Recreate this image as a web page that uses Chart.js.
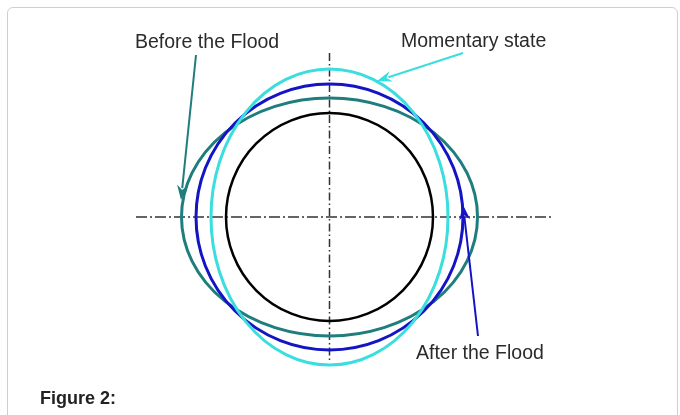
<!DOCTYPE html>
<html>
<head>
<meta charset="utf-8">
<script src="https://cdn.jsdelivr.net/npm/chart.js@4"></script>
<style>
  html, body { margin: 0; padding: 0; background: #fff; }
  #wrap { position: relative; width: 680px; height: 415px; overflow: hidden; }
  #frame { position: absolute; left: 7px; top: 7px; width: 671px; height: 440px;
           border: 1px solid #cfcfcf; border-radius: 6px; box-sizing: border-box; }
  canvas { position: absolute; left: 0; top: 0; }
  .lbl { position: absolute; font-family: "Liberation Sans", Arial, sans-serif;
         font-size: 19.5px; color: #2b2b2b; white-space: nowrap; line-height: 1; }
  #cap { position: absolute; left: 40px; top: 389px; font-family: "Liberation Sans", Arial, sans-serif;
         font-weight: bold; font-size: 18px; color: #222; line-height: 1; }
</style>
</head>
<body>
<div id="wrap">
  <div id="frame"></div>
  <canvas id="c" width="680" height="415"></canvas>
  <div class="lbl" style="left:135px; top:32px;">Before the Flood</div>
  <div class="lbl" style="left:401px; top:31px;">Momentary state</div>
  <div class="lbl" style="left:416px; top:343px;">After the Flood</div>
  <div id="cap">Figure 2:</div>
</div>
<script>
// Curves (semi-axes, in drawing units)
const curveNames = ["Original", "Before the Flood", "After the Flood", "Momentary state"];
const radiusX = [103.5, 148, 133.5, 118.5];
const radiusY = [104, 119, 133, 148];
const curveColors = ["#000000", "#1f7d7d", "#1414c4", "#3adede"];

// Centre lines
const hLineX = [-193.5, 223.5];
const vLineY = [164, -145];

// Annotation arrows: [fromX, fromY, toX, toY]
const arrowFrom = [[-133.5, 162], [133.5, 164], [148.5, -119]];
const arrowTo = [[-148.5, 17], [47.5, 136], [133.5, 12]];
const arrowColors = ["#1f7d7d", "#3adede", "#1414c4"];

const ellipsePlugin = {
  id: 'ellipses',
  afterDatasetsDraw(chart) {
    const ctx = chart.ctx, xs = chart.scales.x, ys = chart.scales.y;
    const cx = xs.getPixelForValue(0), cy = ys.getPixelForValue(0);
    ctx.save();
    [0, 1, 2, 3].forEach(i => {
      const rx = xs.getPixelForValue(radiusX[i]) - cx;
      const ry = cy - ys.getPixelForValue(radiusY[i]);
      ctx.beginPath();
      ctx.ellipse(cx, cy, rx, ry, 0, 0, Math.PI * 2);
      ctx.strokeStyle = curveColors[i];
      ctx.lineWidth = i === 0 ? 2.5 : 3;
      ctx.stroke();
    });
    arrowFrom.forEach((f, i) => {
      const x1 = xs.getPixelForValue(f[0]), y1 = ys.getPixelForValue(f[1]);
      const x2 = xs.getPixelForValue(arrowTo[i][0]), y2 = ys.getPixelForValue(arrowTo[i][1]);
      const ang = Math.atan2(y2 - y1, x2 - x1);
      const L = 15, W = 5.5;
      ctx.strokeStyle = arrowColors[i];
      ctx.fillStyle = arrowColors[i];
      ctx.lineWidth = 2;
      ctx.beginPath();
      ctx.moveTo(x1, y1);
      ctx.lineTo(x2 - Math.cos(ang) * (L - 3), y2 - Math.sin(ang) * (L - 3));
      ctx.stroke();
      ctx.beginPath();
      ctx.moveTo(x2, y2);
      ctx.lineTo(x2 - Math.cos(ang) * L - Math.sin(ang) * W, y2 - Math.sin(ang) * L + Math.cos(ang) * W);
      ctx.lineTo(x2 - Math.cos(ang) * (L - 5), y2 - Math.sin(ang) * (L - 5));
      ctx.lineTo(x2 - Math.cos(ang) * L + Math.sin(ang) * W, y2 - Math.sin(ang) * L - Math.cos(ang) * W);
      ctx.closePath();
      ctx.fill();
    });
    ctx.restore();
  }
};

new Chart(document.getElementById('c'), {
  type: 'scatter',
  data: {
    datasets: [
      { label: 'h', data: hLineX.map(v => ({ x: v, y: 0 })), showLine: true, pointRadius: 0,
        borderColor: '#333', borderWidth: 1.7, borderDash: [11, 3, 2, 3] },
      { label: 'v', data: vLineY.map(v => ({ x: 0, y: v })), showLine: true, pointRadius: 0,
        borderColor: '#333', borderWidth: 1.5, borderDash: [8, 3, 1.5, 3] }
    ]
  },
  options: {
    responsive: false,
    animation: false,
    layout: { padding: 0 },
    plugins: { legend: { display: false }, tooltip: { enabled: false } },
    scales: {
      x: { type: 'linear', min: -329.5, max: 350.5, display: false },
      y: { type: 'linear', min: -198, max: 217, display: false }
    }
  },
  plugins: [ellipsePlugin]
});
</script>
</body>
</html>
